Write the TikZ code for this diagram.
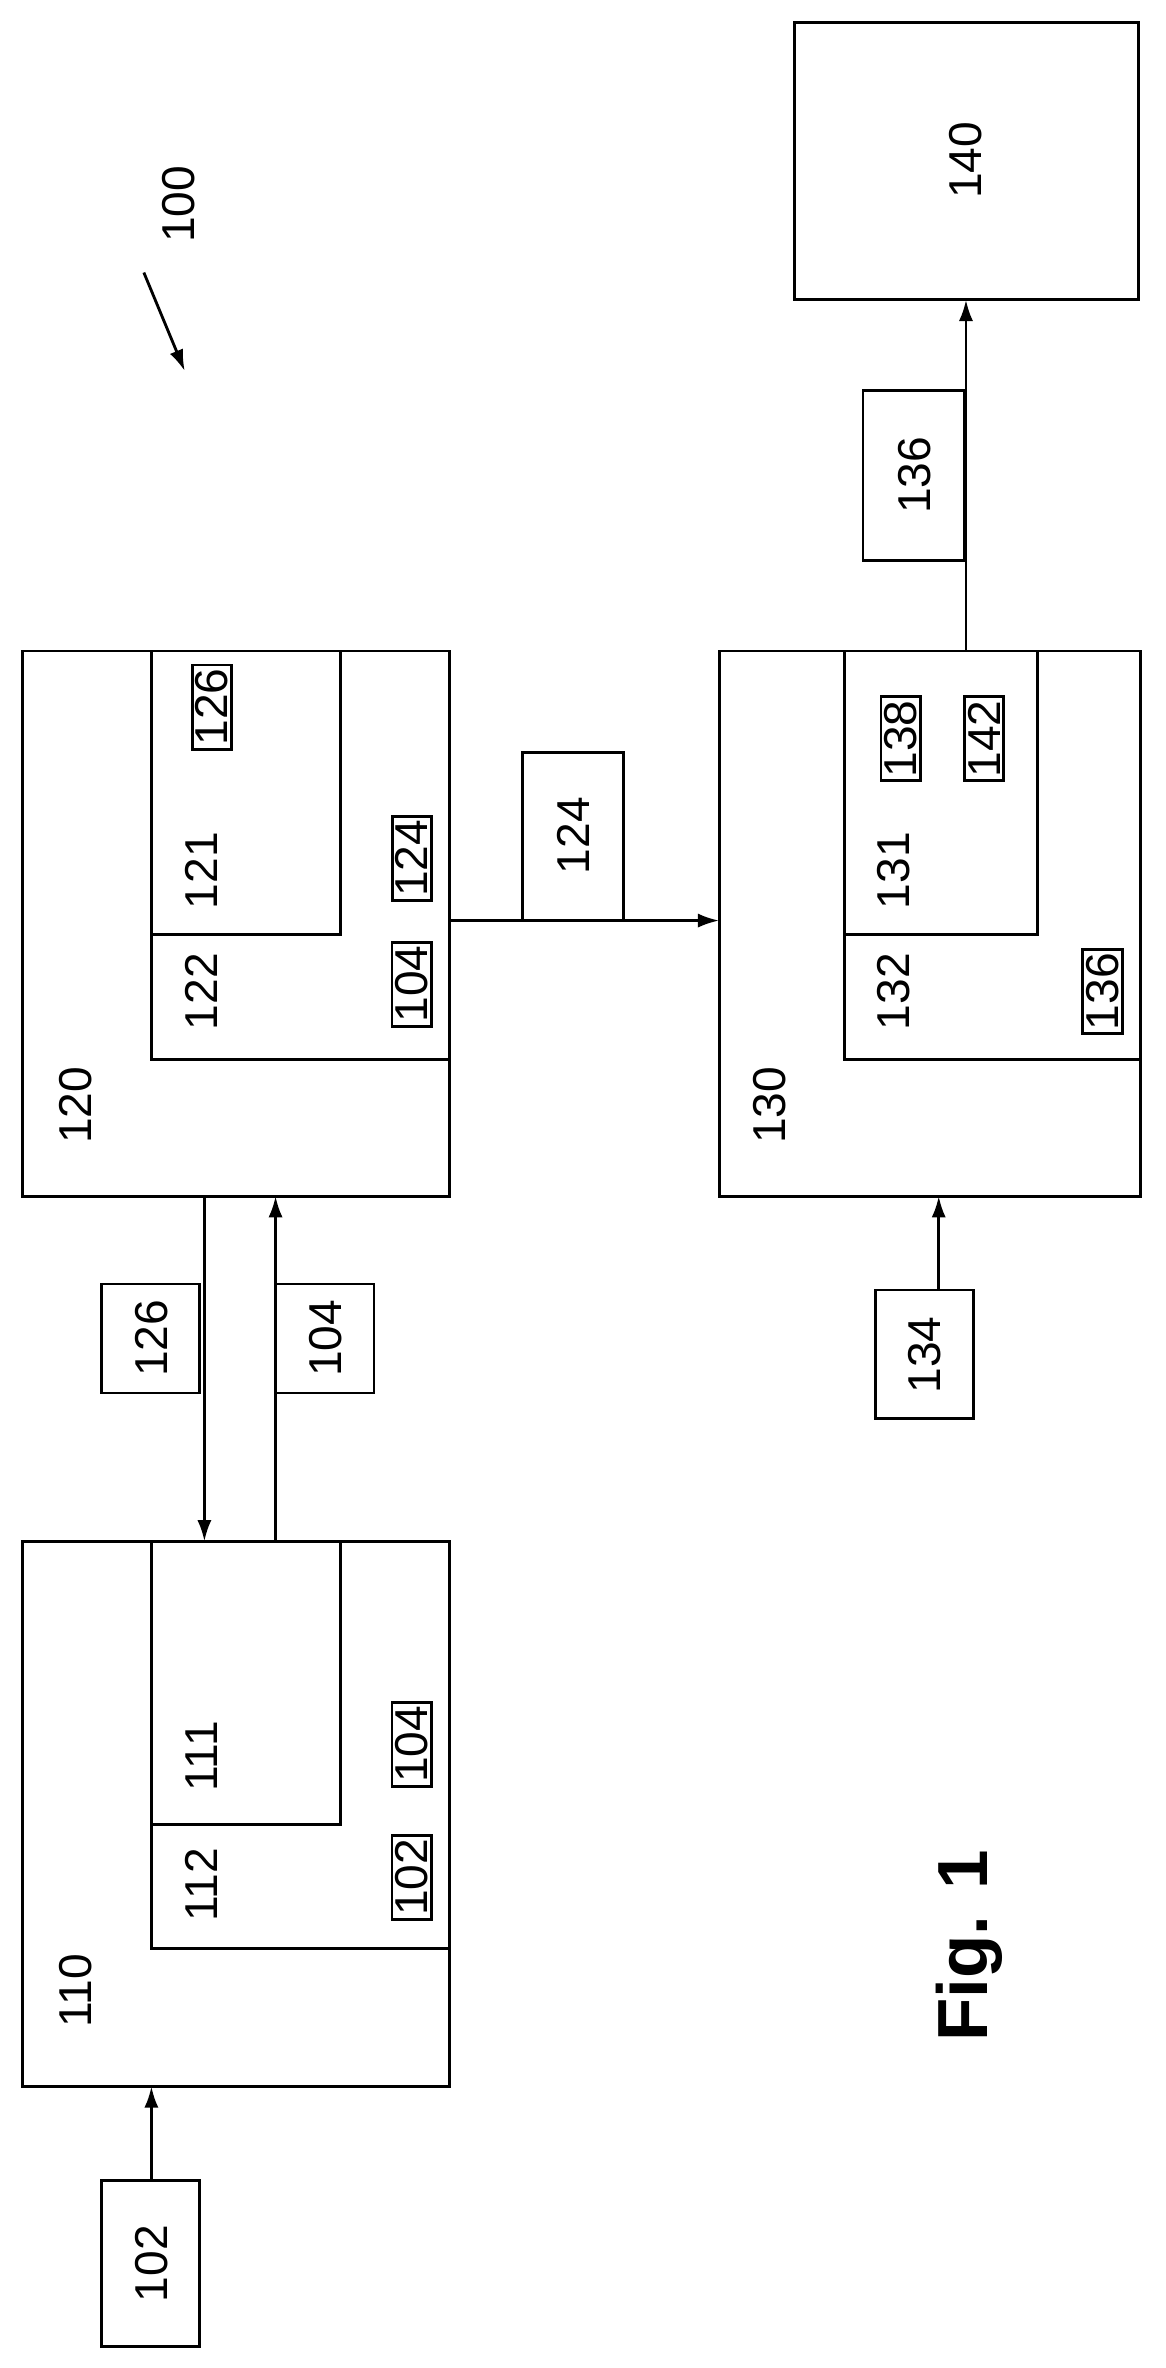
\documentclass[tikz,border=0pt]{standalone}
\usepackage{fontspec}
\setmainfont{Liberation Sans}
\usetikzlibrary{arrows.meta}
\begin{document}
\begin{tikzpicture}[x=0.03cm,y=-0.03cm,>={Latex[length=12pt,width=8pt]},line width=1.6pt]
    % --- STYLES ---
    \tikzstyle{lbl} = [rotate=90, font=\fontsize{26}{30}\selectfont]
    \tikzstyle{tag} = [draw, rotate=90, inner sep=2pt, font=\fontsize{26}{30}\selectfont]
    \tikzstyle{flow} = [->]
    \useasboundingbox (0,0) rectangle (770,1564);

    % --- UNIT 110 ---
    \draw (15,1018) rectangle (297,1378);
    \draw (100,1018) -- (100,1287) -- (297,1287);
    \draw (100,1205) -- (225,1205) -- (225,1018);
    \node[lbl] (l110) at (50,1315) {110};
    \node[lbl] (l112) at (133,1245) {112};
    \node[lbl] (l111) at (133,1160) {111};
    \node[tag] (s102) at (272,1240) {102};
    \node[tag] (s104) at (272,1152) {104};

    % --- UNIT 120 ---
    \draw (15,430) rectangle (297,790);
    \draw (100,430) -- (100,700) -- (297,700);
    \draw (100,617) -- (225,617) -- (225,430);
    \node[lbl] (l120) at (50,730) {120};
    \node[lbl] (l122) at (133,655) {122};
    \node[lbl] (l121) at (133,575) {121};
    \node[tag] (s126) at (140,467) {126};
    \node[tag] (s104b) at (272,650) {104};
    \node[tag] (s124) at (272,567) {124};

    % --- UNIT 130 ---
    \draw (475,430) rectangle (753,790);
    \draw (558,430) -- (558,700) -- (753,700);
    \draw (558,617) -- (685,617) -- (685,430);
    \node[lbl] (l130) at (508,730) {130};
    \node[lbl] (l132) at (590,655) {132};
    \node[lbl] (l131) at (590,575) {131};
    \node[tag] (s138) at (595,488) {138};
    \node[tag] (s142) at (650,488) {142};
    \node[tag] (s136) at (728,655) {136};

    % --- UNIT 140 ---
    \draw (525,15) rectangle (752,198);
    \node[lbl] (l140) at (638,106) {140};

    % --- DATA BOXES ---
    \draw (67,1440) rectangle (132,1550);
    \node[lbl] (d102) at (100,1495) {102};
    \draw (67,848) rectangle (132,920);
    \node[lbl] (d126) at (100,884) {126};
    \draw (182,848) rectangle (247,920);
    \node[lbl] (d104) at (215,884) {104};
    \draw (345,497) rectangle (412,608);
    \node[lbl] (d124) at (379,552) {124};
    \draw (578,852) rectangle (643,937);
    \node[lbl] (d134) at (611,895) {134};
    \draw (570,258) rectangle (637,370);
    \node[lbl] (d136) at (604,314) {136};

    % --- CONNECTORS ---
    \coordinate (a102) at (100,1440);
    \coordinate (e110) at (100,1378);
    \draw[flow] (a102) -- (e110);
    \coordinate (o126) at (135,790);
    \coordinate (i126) at (135,1018);
    \draw[flow] (o126) -- (i126);
    \coordinate (o104) at (182,1018);
    \coordinate (i104) at (182,790);
    \draw[flow] (o104) -- (i104);
    \coordinate (o124) at (297,608);
    \coordinate (i124) at (475,608);
    \draw[flow] (o124) -- (i124);
    \coordinate (a134) at (620,852);
    \coordinate (e130) at (620,790);
    \draw[flow] (a134) -- (e130);
    \coordinate (o136) at (638,430);
    \coordinate (i140) at (638,198);
    \draw[flow] (o136) -- (i140);

    % --- REFERENCE LABEL ---
    \node[lbl] (r100) at (118,135) {100};
    \coordinate (p100a) at (95,180);
    \coordinate (p100b) at (122,245);
    \draw[flow] (p100a) -- (p100b);
    \node[rotate=90, font=\fontsize{40}{46}\selectfont\bfseries] (fig) at (640,1285) {Fig. 1};
\end{tikzpicture}
\end{document}
